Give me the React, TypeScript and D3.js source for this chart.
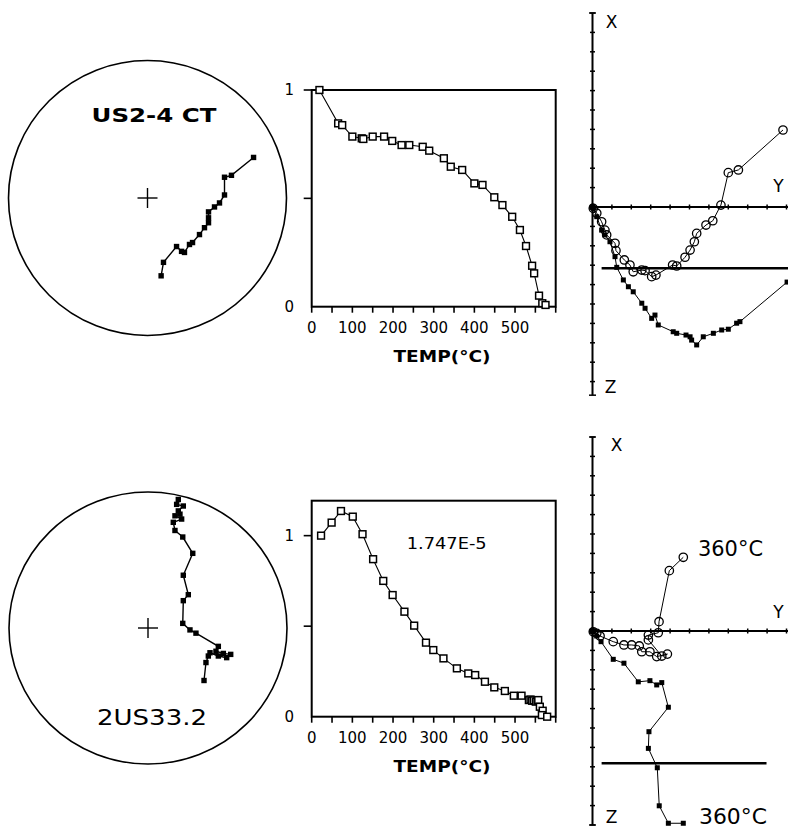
import React from 'react';
import * as d3 from 'd3';

// ---------- DATA ----------
// Demagnetization (normalized intensity vs temperature)
const tempTicks = [0, 100, 200, 300, 400, 500];
const tempMinorTicks = [0, 50, 100, 150, 200, 250, 300, 350, 400, 450, 500, 550, 600];

const topDemagTemp = [19, 65, 75, 100, 123, 127, 150, 178, 198, 221, 240, 273, 289, 325, 342, 370, 400, 420, 449, 469, 493, 512, 527, 542, 547, 559, 567, 575];
const topDemagValue = [1.0, 0.846, 0.838, 0.785, 0.777, 0.774, 0.785, 0.785, 0.765, 0.746, 0.746, 0.738, 0.72, 0.685, 0.646, 0.631, 0.569, 0.562, 0.505, 0.469, 0.415, 0.354, 0.28, 0.189, 0.154, 0.051, 0.016, 0.008];

const botDemagTemp = [23, 49, 72, 101, 125, 151, 176, 199, 228, 252, 281, 299, 324, 357, 385, 402, 426, 449, 475, 497, 516, 534, 538, 542, 546, 551, 555, 557, 561, 568, 566, 579];
const botDemagValue = [1.0, 1.072, 1.136, 1.105, 1.008, 0.87, 0.75, 0.672, 0.58, 0.503, 0.409, 0.368, 0.322, 0.267, 0.239, 0.23, 0.193, 0.162, 0.142, 0.116, 0.116, 0.092, 0.095, 0.088, 0.09, 0.083, 0.088, 0.092, 0.055, 0.033, 0.009, 0.0];

// Equal-area stereonet points (unit-circle coordinates: east, north)
const topStereoE = [0.763, 0.604, 0.554, 0.554, 0.518, 0.482, 0.439, 0.439, 0.439, 0.41, 0.374, 0.324, 0.302, 0.266, 0.245, 0.209, 0.115, 0.098];
const topStereoN = [0.295, 0.165, 0.151, 0.022, -0.036, -0.065, -0.101, -0.144, -0.18, -0.216, -0.266, -0.324, -0.338, -0.396, -0.388, -0.353, -0.468, -0.566];

const botStereoE = [0.218, 0.206, 0.254, 0.218, 0.23, 0.194, 0.242, 0.182, 0.194, 0.25, 0.322, 0.254, 0.29, 0.254, 0.25, 0.302, 0.345, 0.506, 0.489, 0.542, 0.595, 0.566, 0.506, 0.446, 0.434, 0.417, 0.403];
const botStereoN = [0.945, 0.909, 0.897, 0.861, 0.837, 0.825, 0.801, 0.777, 0.717, 0.669, 0.549, 0.388, 0.245, 0.201, 0.034, -0.014, -0.038, -0.135, -0.171, -0.187, -0.194, -0.218, -0.206, -0.182, -0.206, -0.254, -0.386];

// Zijderveld diagrams (tick units). Horizontal projection: east / north (open circles)
const topHorizE = [9.82, 7.52, 7.0, 6.62, 6.2, 5.85, 5.37, 5.25, 5.03, 4.77, 4.34, 4.13, 3.27, 3.05, 2.71, 2.54, 2.1, 1.93, 1.64, 1.21, 1.16, 0.73, 0.64, 0.47, 0.22, 0.04];
const topHorizN = [3.97, 1.91, 1.77, 0.1, -0.71, -0.93, -1.36, -1.79, -2.22, -2.59, -3.04, -2.99, -3.51, -3.59, -3.28, -3.25, -3.34, -2.99, -2.73, -2.25, -1.87, -1.44, -1.19, -0.76, -0.32, -0.07];
// Vertical projection: east / down (filled squares)
const topVertE = [0.04, 0.22, 0.47, 0.64, 0.9, 1.16, 1.25, 1.59, 1.85, 2.1, 2.54, 2.71, 3.05, 3.22, 3.39, 4.16, 4.34, 4.82, 5.03, 5.11, 5.37, 5.71, 6.23, 6.66, 7.0, 7.43, 7.6, 10.03];
const topVertZ = [0.07, 0.5, 1.19, 1.44, 1.79, 2.56, 3.11, 3.76, 4.11, 4.37, 4.96, 5.22, 5.74, 5.57, 6.08, 6.43, 6.51, 6.6, 6.69, 6.86, 7.11, 6.69, 6.51, 6.34, 6.3, 5.99, 5.91, 3.87];

const botHorizE = [4.68, 3.96, 3.43, 3.39, 2.88, 2.88, 3.57, 3.86, 3.31, 2.96, 2.54, 2.41, 2.02, 1.62, 1.07, 0.39, 0.22, 0.04];
const botHorizN = [3.8, 3.11, 0.48, -0.09, -0.21, -0.46, -1.29, -1.19, -1.32, -1.07, -1.07, -0.77, -0.72, -0.72, -0.55, -0.26, -0.12, -0.04];
const botVertE = [0.04, 0.22, 0.44, 1.07, 1.62, 2.36, 2.96, 3.31, 3.57, 3.91, 2.91, 2.88, 3.34, 3.44, 3.91, 4.68];
const botVertZ = [0.04, 0.26, 0.55, 1.46, 1.66, 2.62, 2.56, 2.78, 2.66, 3.93, 5.19, 6.05, 7.05, 9.01, 9.91, 9.91];

const zijTicks = d3.range(-10, 11);

// ---------- COMPONENTS ----------
const FONT = "'DejaVu Sans', sans-serif";

function Stereonet({ cx, cy, rx, ry, east, north, label, labelX, labelY, bold, labelLen, labelSize }: any) {
  const xs = d3.scaleLinear().domain([-1, 1]).range([cx - rx, cx + rx]);
  const ys = d3.scaleLinear().domain([-1, 1]).range([cy + ry, cy - ry]);
  const pts: [number, number][] = east.map((e: number, i: number) => [xs(e), ys(north[i])]);
  const line = d3.line()(pts) || '';
  return (
    <g>
      <ellipse cx={xs(0)} cy={ys(0)} rx={rx} ry={ry} fill="none" stroke="#000" strokeWidth={1.6} />
      <line x1={xs(0) - 10} x2={xs(0) + 10} y1={ys(0)} y2={ys(0)} stroke="#000" strokeWidth={1.4} />
      <line x1={xs(0)} x2={xs(0)} y1={ys(0) - 10} y2={ys(0) + 10} stroke="#000" strokeWidth={1.4} />
      <path d={line} fill="none" stroke="#000" strokeWidth={1.4} />
      {pts.map((p, i) => (
        <rect key={i} x={p[0] - 2.7} y={p[1] - 2.7} width={5.4} height={5.4} fill="#000" />
      ))}
      <text x={labelX} y={labelY} textAnchor="middle" dominantBaseline="central" fontFamily={FONT}
        fontWeight={bold ? 'bold' : 'normal'} fontSize={labelSize} textLength={labelLen} lengthAdjust="spacingAndGlyphs">{label}</text>
    </g>
  );
}

function Demag({ top, bottom, yMax, temps, values, yTicks, yLabels, note }: any) {
  const x = d3.scaleLinear().domain([0, 600]).range([311.7, 555.7]);
  const y = d3.scaleLinear().domain([0, yMax]).range([bottom, top]);
  const pts: [number, number][] = temps.map((t: number, i: number) => [x(t), y(values[i])]);
  const line = d3.line()(pts) || '';
  return (
    <g>
      <rect x={x(0)} y={top} width={x(600) - x(0)} height={bottom - top} fill="none" stroke="#000" strokeWidth={2} />
      {tempMinorTicks.map((t) => (
        <line key={t} x1={x(t)} x2={x(t)} y1={bottom} y2={bottom + 6} stroke="#000" strokeWidth={1.6} />
      ))}
      {yTicks.map((v: number) => (
        <line key={v} x1={x(0) - 8} x2={x(0)} y1={y(v)} y2={y(v)} stroke="#000" strokeWidth={1.6} />
      ))}
      {yLabels.map((v: number) => (
        <text key={v} x={294} y={y(v)} textAnchor="end" dominantBaseline="central" fontFamily={FONT} fontSize={15}>{v}</text>
      ))}
      {tempTicks.map((t) => (
        <text key={t} x={x(t)} y={bottom + 21} textAnchor="middle" dominantBaseline="central" fontFamily={FONT} fontSize={15}>{t}</text>
      ))}
      <text x={442} y={bottom + 50} textAnchor="middle" dominantBaseline="central" fontFamily={FONT} fontWeight="bold" fontSize={16} textLength={97} lengthAdjust="spacingAndGlyphs">TEMP(°C)</text>
      <path d={line} fill="none" stroke="#000" strokeWidth={1.1} />
      {pts.map((p, i) => (
        <rect key={i} x={p[0] - 3.4} y={p[1] - 3.4} width={6.8} height={6.8} fill="#fff" stroke="#000" strokeWidth={1.5} />
      ))}
      {note && (
        <text x={446.7} y={top + 43} textAnchor="middle" dominantBaseline="central" fontFamily={FONT} fontSize={16} textLength={80} lengthAdjust="spacingAndGlyphs">{note}</text>
      )}
    </g>
  );
}

function Zijderveld({ ox, oy, vMin, vMax, hE, hN, vE, vZ, barZ, barE0, barE1, labels }: any) {
  const s = 19.4;
  const x = d3.scaleLinear().domain([0, 10]).range([ox, ox + 10 * s]);
  const y = d3.scaleLinear().domain([-10, 10]).range([oy - 10 * s, oy + 10 * s]);
  const circ: [number, number][] = hE.map((e: number, i: number) => [x(e), y(-hN[i])]);
  const sq: [number, number][] = vE.map((e: number, i: number) => [x(e), y(vZ[i])]);
  const vticks = zijTicks.filter((t) => t >= vMin && t <= vMax && t !== 0);
  const hticks = d3.range(1, 11);
  return (
    <g>
      <line x1={x(0)} x2={x(0)} y1={y(vMin)} y2={y(vMax)} stroke="#000" strokeWidth={2} />
      <line x1={x(0) - 3.5} x2={x(0) + 3.5} y1={y(vMin)} y2={y(vMin)} stroke="#000" strokeWidth={1.5} />
      <line x1={x(0) - 3.5} x2={x(0) + 3.5} y1={y(vMax)} y2={y(vMax)} stroke="#000" strokeWidth={1.5} />
      {vticks.map((t) => (
        <line key={t} x1={x(0) - 2.5} x2={x(0) + 2.5} y1={y(t)} y2={y(t)} stroke="#000" strokeWidth={1.5} />
      ))}
      <line x1={x(0)} x2={800} y1={y(0)} y2={y(0)} stroke="#000" strokeWidth={2} />
      {hticks.map((t) => (
        <line key={t} x1={x(t)} x2={x(t)} y1={y(0) - 2.5} y2={y(0) + 2.5} stroke="#000" strokeWidth={1.5} />
      ))}
      <line x1={x(barE0)} x2={x(barE1)} y1={y(barZ)} y2={y(barZ)} stroke="#000" strokeWidth={2.6} />
      <path d={d3.line()(circ) || ''} fill="none" stroke="#000" strokeWidth={1} />
      <path d={d3.line()(sq) || ''} fill="none" stroke="#000" strokeWidth={1} />
      {sq.map((p, i) => (
        <rect key={i} x={p[0] - 2.5} y={p[1] - 2.5} width={5} height={5} fill="#000" />
      ))}
      {circ.map((p, i) => (
        <circle key={i} cx={p[0]} cy={p[1]} r={4.2} fill="none" stroke="#000" strokeWidth={1.3} />
      ))}
      <circle cx={x(0)} cy={y(0)} r={3.5} fill="#000" />
      {labels.map((l: any, i: number) => (
        <text key={i} x={l.x} y={l.y} textAnchor={l.anchor || 'middle'} fontFamily={FONT}
          fontSize={l.size} textLength={l.len} lengthAdjust="spacingAndGlyphs">{l.t}</text>
      ))}
    </g>
  );
}

export default function App() {
  return (
    <svg width={788} height={828} style={{ position: 'absolute', left: 0, top: 0, background: '#fff' }}>
      <rect width={788} height={828} fill="#fff" />
      {/* top row */}
      <Stereonet cx={147.5} cy={198} rx={139} ry={137.5} east={topStereoE} north={topStereoN}
        label="US2-4 CT" labelX={154} labelY={115} bold labelLen={125} labelSize={20} />
      <Demag top={90} bottom={306.7} yMax={1} temps={topDemagTemp} values={topDemagValue}
        yTicks={[1, 0.5]} yLabels={[1, 0]} />
      <Zijderveld ox={592.5} oy={207} vMin={-10} vMax={9.7} hE={topHorizE} hN={topHorizN} vE={topVertE} vZ={topVertZ}
        barZ={3.16} barE0={0.47} barE1={10.2}
        labels={[
          { t: 'X', x: 611.5, y: 28, size: 17 },
          { t: 'Y', x: 778.5, y: 192, size: 17 },
          { t: 'Z', x: 610.5, y: 393, size: 17 },
        ]} />
      {/* bottom row */}
      <Stereonet cx={148} cy={628} rx={139} ry={136} east={botStereoE} north={botStereoN}
        label="2US33.2" labelX={152} labelY={717} bold={false} labelLen={110} labelSize={22} />
      <Demag top={500.7} bottom={716.7} yMax={1.193} temps={botDemagTemp} values={botDemagValue}
        yTicks={[1, 0.5]} yLabels={[1, 0]} note="1.747E-5" />
      <Zijderveld ox={592.5} oy={631} vMin={-10} vMax={10} hE={botHorizE} hN={botHorizN} vE={botVertE} vZ={botVertZ}
        barZ={6.82} barE0={0.47} barE1={8.97}
        labels={[
          { t: 'X', x: 616.5, y: 451, size: 17 },
          { t: 'Y', x: 778.5, y: 618, size: 17 },
          { t: 'Z', x: 611.5, y: 823, size: 17 },
          { t: '360°C', x: 698, y: 556, size: 21, len: 65, anchor: 'start' },
          { t: '360°C', x: 699, y: 824, size: 21, len: 68, anchor: 'start' },
        ]} />
    </svg>
  );
}
